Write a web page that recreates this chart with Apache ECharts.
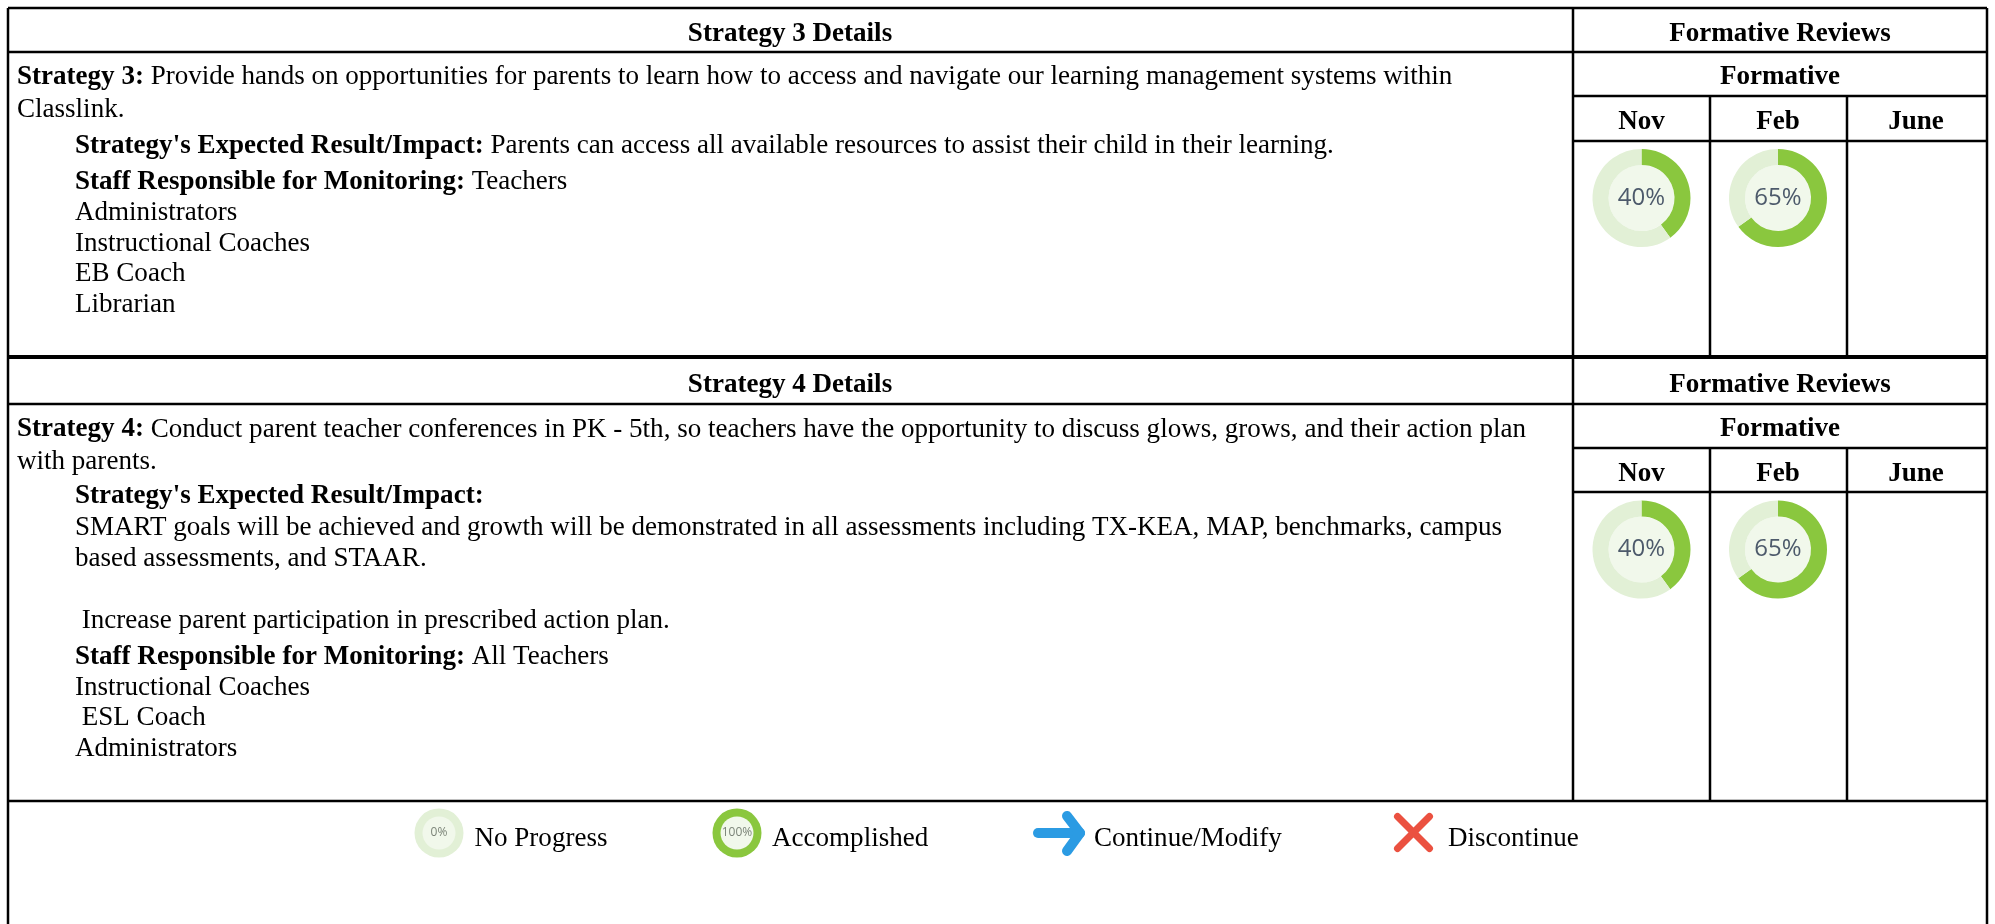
<!DOCTYPE html>
<html><head><meta charset="utf-8">
<style>html,body{margin:0;padding:0;background:#fff}#c{width:1995px;height:924px}</style>
<script src="https://cdn.jsdelivr.net/npm/echarts@6/dist/echarts.min.js"></script>
</head><body><div id="c"></div>
<script>
const months = ['Nov', 'Feb', 'June'];
const strategy3Progress = [40, 65];
const strategy4Progress = [40, 65];
const detailHeaders = ['Strategy 3 Details', 'Strategy 4 Details'];
const reviewHeader = 'Formative Reviews';
const formativeHeader = 'Formative';
const strategy3Lines = [
  ['Strategy 3:', ' Provide hands on opportunities for parents to learn how to access and navigate our learning management systems within'],
  ['', 'Classlink.'],
  ["Strategy's Expected Result/Impact:", ' Parents can access all available resources to assist their child in their learning.'],
  ['Staff Responsible for Monitoring:', ' Teachers'],
  ['', 'Administrators'],
  ['', 'Instructional Coaches'],
  ['', 'EB Coach'],
  ['', 'Librarian']
];
const strategy4Lines = [
  ['Strategy 4:', ' Conduct parent teacher conferences in PK - 5th, so teachers have the opportunity to discuss glows, grows, and their action plan'],
  ['', 'with parents.'],
  ["Strategy's Expected Result/Impact:", ''],
  ['', 'SMART goals will be achieved and growth will be demonstrated in all assessments including TX-KEA, MAP, benchmarks, campus'],
  ['', 'based assessments, and STAAR.'],
  ['', ' Increase parent participation in prescribed action plan.'],
  ['Staff Responsible for Monitoring:', ' All Teachers'],
  ['', 'Instructional Coaches'],
  ['', ' ESL Coach'],
  ['', 'Administrators']
];
const legendLabels = ['No Progress', 'Accomplished', 'Continue/Modify', 'Discontinue'];

// layout (px)
const L = 8, R = 1987, T = 8, V0 = 1573, V1 = 1710, V2 = 1847;
const colX = [1641.5, 1778, 1916];
const block1 = {h:[52,96,141], bottom:357, donutY:198, lineX:[17,17,75,75,75,75,75,75], lineY:[77,110,146,182,213,244,274,305]};
const block2 = {h:[404,448,492], bottom:801, donutY:549.5, lineX:[17,17,75,75,75,75,75,75,75,75], lineY:[429.5,462,496,528,559,621,657,688,718,749]};
const GREEN = '#8AC73E', LIGHT = '#E2F0D6', INNER = '#F1F8EB';
const FS = 27.05, SERIF = '"Liberation Serif","Times New Roman",serif';

const g = [];
function line(x1,y1,x2,y2,w){g.push({type:'line',z:5,shape:{x1,y1,x2,y2},style:{stroke:'#000',lineWidth:w||2.5}});}
function txt(t,x,y,bold,align,size){g.push({type:'text',z:6,x,y,style:{text:t,font:(bold?'bold ':'')+(size||FS)+'px '+SERIF,fill:'#000',textAlign:align||'left',textVerticalAlign:'middle'}});}
function rich(parts,x,y){
  g.push({type:'text',z:6,x,y,style:{text:(parts[0]?'{b|'+parts[0]+'}':'')+(parts[1]?'{r|'+parts[1]+'}':''),textVerticalAlign:'middle',
    rich:{b:{font:'bold '+FS+'px '+SERIF,fill:'#000'},r:{font:FS+'px '+SERIF,fill:'#000'}}}});
}
// frame
line(L,T,R,T);line(L,T,L,924);line(R,T,R,924);
function block(top,b,hdr,lines){
  line(L,b.h[0],R,b.h[0]);
  line(V0,b.h[1],R,b.h[1]);
  line(V0,b.h[2],R,b.h[2]);
  line(V0,top,V0,b.bottom);
  line(V1,b.h[1],V1,b.bottom);
  line(V2,b.h[1],V2,b.bottom);
  const hy=(top+b.h[0])/2+4;
  txt(hdr,790,hy,true,'center');
  txt(reviewHeader,1780,hy,true,'center');
  txt(formativeHeader,1780,(b.h[0]+b.h[1])/2+3.5,true,'center');
  months.forEach((m,i)=>txt(m,colX[i],(b.h[1]+b.h[2])/2+4,true,'center'));
  lines.forEach((p,i)=>rich(p,b.lineX[i],b.lineY[i]));
}
block(T,block1,detailHeaders[0],strategy3Lines);
block(358,block2,detailHeaders[1],strategy4Lines);
line(L,357,R,357,4);
line(L,801,R,801,2.5);

// legend icons
function ringIcon(cx,cy,outer,label){
  g.push({type:'circle',z:4,shape:{cx,cy,r:24.5},style:{fill:outer}});
  g.push({type:'circle',z:4,shape:{cx,cy,r:16.5},style:{fill:INNER}});
  g.push({type:'text',z:6,x:cx,y:cy,style:{text:label,font:'12px "Open Sans"',fill:'#7b8478',textAlign:'center',textVerticalAlign:'middle'}});
}
ringIcon(439,833,LIGHT,'0%');
ringIcon(737,833,GREEN,'100%');
g.push({type:'polyline',z:4,shape:{points:[[1038,833],[1080,833]]},style:{stroke:'#2B9BE3',lineWidth:10,lineCap:'round',fill:'none'}});
g.push({type:'polyline',z:4,shape:{points:[[1067,816],[1080,833],[1067,851]]},style:{stroke:'#2B9BE3',lineWidth:10,lineCap:'round',lineJoin:'round',fill:'none'}});
g.push({type:'line',z:4,shape:{x1:1397.5,y1:816.5,x2:1429.5,y2:848.5},style:{stroke:'#EB5140',lineWidth:7,lineCap:'round'}});
g.push({type:'line',z:4,shape:{x1:1429.5,y1:816.5,x2:1397.5,y2:848.5},style:{stroke:'#EB5140',lineWidth:7,lineCap:'round'}});
const legX=[474.5,772,1094,1448];
legendLabels.forEach((t,i)=>txt(t,legX[i],839,false,'left'));

// donuts
function donut(v,cx,cy){
  return [{type:'pie',silent:true,animation:false,z:2,center:[cx,cy],radius:[0,33],label:{show:true,position:'center',formatter:v+'%',fontFamily:'"Open Sans"',fontSize:24,color:'#4d5a6b'},labelLine:{show:false},itemStyle:{color:INNER},data:[{value:1}]},
  {type:'pie',silent:true,animation:false,z:3,center:[cx,cy],radius:[33,49],startAngle:90,clockwise:true,label:{show:false},labelLine:{show:false},data:[{value:v,itemStyle:{color:GREEN}},{value:100-v,itemStyle:{color:LIGHT}}]}];
}
const series=[];
strategy3Progress.forEach((v,i)=>series.push(...donut(v,colX[i],block1.donutY)));
strategy4Progress.forEach((v,i)=>series.push(...donut(v,colX[i],block2.donutY)));

echarts.init(document.getElementById('c'),null,{renderer:'canvas'}).setOption({animation:false,backgroundColor:'#fff',series,graphic:g});
</script></body></html>
